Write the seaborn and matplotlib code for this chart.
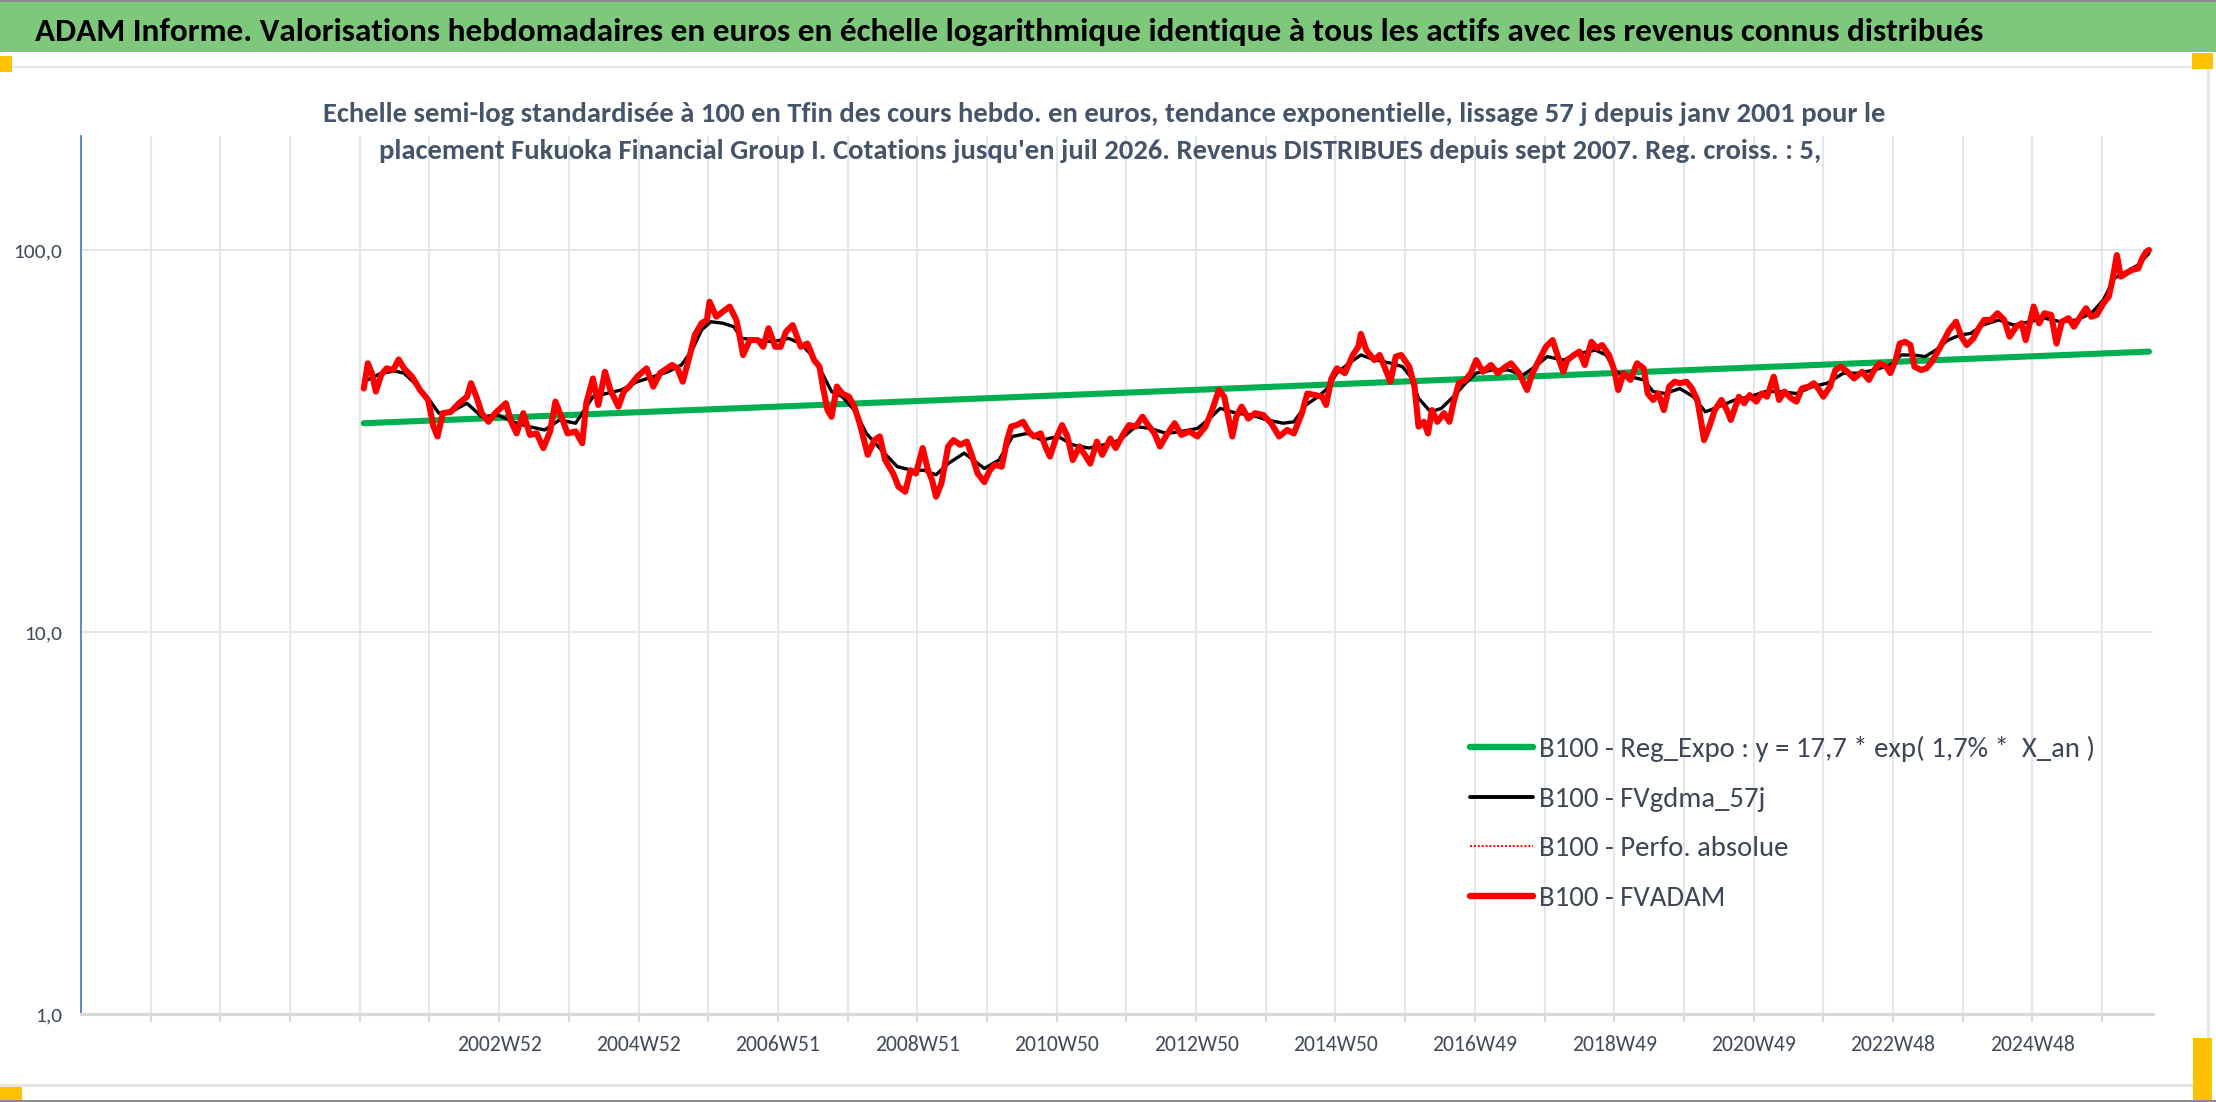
import numpy as np
import pandas as pd
import seaborn as sns
import matplotlib
matplotlib.use("Agg")
import matplotlib.pyplot as plt
from matplotlib import font_manager as fm
from matplotlib.lines import Line2D
from matplotlib.patches import Rectangle
from matplotlib.ticker import NullLocator, FixedLocator, FixedFormatter

# ---------------- DATA ----------------
header_text = ("ADAM Informe. Valorisations hebdomadaires en euros en échelle logarithmique "
               "identique à tous les actifs avec les revenus connus distribués")
subtitle_1 = ("Echelle semi-log standardisée à 100 en Tfin des cours hebdo. en euros, tendance "
              "exponentielle, lissage 57 j depuis janv 2001 pour le")
subtitle_2 = ("placement Fukuoka Financial Group I. Cotations jusqu'en juil 2026. Revenus "
              "DISTRIBUES depuis sept 2007. Reg. croiss. : 5,")

tick_labels = ["2002W52", "2004W52", "2006W51", "2008W51", "2010W50", "2012W50",
               "2014W50", "2016W49", "2018W49", "2020W49", "2022W48", "2024W48"]
y_ticks = [1, 10, 100]
y_tick_labels = ["1,0", "10,0", "100,0"]

series_names = ["B100 - Reg_Expo : y = 17,7 * exp( 1,7% *  X_an )",
                "B100 - FVgdma_57j",
                "B100 - Perfo. absolue",
                "B100 - FVADAM"]

# week index on the category axis (0 = first category, 52 weeks per year)
trend_week = [211, 1543]
trend_value = [35.2, 54.2]

red_week = [211, 214, 217, 220, 224, 228, 233, 237, 241, 247, 253, 259, 263, 266, 270, 276, 282, 288,
            291, 295, 299, 304, 309, 317, 321, 325, 330, 335, 340, 345, 350, 354, 359, 363, 369, 374,
            377, 382, 386, 391, 395, 401, 405, 409, 415, 422, 427, 432, 441, 445, 449, 454, 458, 463,
            467, 469, 474, 479, 484, 489, 492, 494, 499, 505, 509, 513, 518, 522, 526, 531, 537, 542,
            547, 551, 554, 557, 560, 564, 568, 573, 577, 581, 587, 592, 596, 600, 606, 610, 615, 619,
            623, 628, 632, 635, 638, 642, 647, 651, 656, 661, 665, 669, 674, 678, 682, 687, 691, 694,
            698, 703, 707, 711, 716, 720, 723, 727, 732, 736, 740, 745, 749, 753, 758, 762, 768, 772,
            778, 782, 787, 792, 797, 801, 805, 810, 816, 821, 827, 833, 839, 844, 849, 853, 859, 862,
            866, 871, 876, 882, 888, 894, 900, 905, 911, 915, 921, 926, 929, 933, 937, 943, 949, 953,
            955, 959, 965, 969, 973, 977, 981, 985, 991, 995, 998, 1002, 1005, 1008, 1012, 1017, 1021,
            1024, 1028, 1033, 1037, 1041, 1046, 1052, 1057, 1063, 1067, 1073, 1079, 1083, 1088, 1093,
            1098, 1102, 1106, 1109, 1114, 1118, 1122, 1127, 1131, 1135, 1140, 1144, 1147, 1151, 1156,
            1161, 1166, 1169, 1173, 1177, 1181, 1185, 1189, 1193, 1198, 1202, 1206, 1209, 1211, 1215,
            1219, 1224, 1228, 1231, 1237, 1241, 1245, 1250, 1254, 1258, 1263, 1267, 1271, 1276, 1280,
            1284, 1289, 1293, 1297, 1300, 1305, 1309, 1313, 1318, 1323, 1329, 1334, 1338, 1342, 1347,
            1350, 1354, 1357, 1361, 1365, 1368, 1373, 1377, 1381, 1386, 1390, 1394, 1399, 1403, 1407,
            1412, 1416, 1420, 1425, 1430, 1435, 1439, 1444, 1448, 1451, 1457, 1461, 1465, 1470, 1474,
            1478, 1483, 1487, 1491, 1496, 1500, 1504, 1509, 1513, 1516, 1519, 1522, 1526, 1530, 1535,
            1538, 1541, 1543]
red_value = [43.4, 50.5, 47.6, 42.6, 47.1, 49.0, 48.5, 51.7, 49.0, 46.6, 43.0, 40.5, 34.5, 32.5, 37.4,
             37.7, 39.7, 41.3, 44.8, 41.3, 37.4, 35.5, 37.4, 39.7, 35.5, 33.1, 37.4, 32.8, 33.1, 30.3,
             33.5, 40.1, 36.2, 33.1, 33.5, 31.2, 39.7, 46.1, 39.3, 48.0, 43.0, 38.9, 42.6, 43.9, 46.6,
             49.0, 43.9, 47.6, 50.0, 49.0, 45.2, 52.6, 59.9, 64.3, 65.6, 73.2, 66.9, 69.0, 71.1, 65.6,
             58.1, 53.1, 58.1, 58.1, 55.8, 62.4, 55.8, 55.8, 61.1, 63.6, 55.8, 56.9, 51.5, 49.5, 43.0,
             38.1, 36.6, 43.9, 42.1, 41.3, 38.9, 35.2, 29.1, 31.8, 32.5, 28.2, 26.0, 24.0, 23.3, 26.5,
             26.0, 30.3, 26.5, 25.0, 22.6, 24.5, 30.6, 31.8, 30.9, 31.5, 28.8, 26.0, 24.7, 26.5, 27.4,
             27.1, 31.8, 34.5, 34.8, 35.5, 33.5, 32.5, 33.1, 30.3, 28.8, 31.8, 34.8, 32.5, 28.2, 30.6,
             29.1, 27.6, 31.5, 29.1, 32.1, 30.3, 33.1, 34.8, 34.5, 36.6, 34.5, 33.1, 30.6, 32.8, 35.2,
             32.8, 33.5, 32.5, 34.5, 38.1, 43.0, 41.3, 32.5, 36.6, 38.9, 36.2, 37.4, 37.0, 35.2, 32.5,
             33.8, 33.1, 37.4, 42.1, 41.7, 41.3, 39.3, 46.1, 49.0, 47.6, 53.1, 55.8, 60.3, 54.7, 51.5,
             53.1, 49.0, 45.2, 52.6, 53.1, 49.5, 43.9, 34.5, 35.5, 33.1, 38.1, 35.5, 37.4, 35.5, 39.7,
             44.8, 45.7, 47.6, 51.5, 48.0, 50.0, 47.6, 49.5, 50.5, 47.6, 43.0, 47.6, 51.5, 55.8, 58.1,
             52.6, 48.0, 51.5, 53.1, 54.2, 50.0, 57.5, 55.3, 56.4, 53.1, 48.5, 43.0, 47.6, 45.7, 50.5,
             49.0, 42.1, 40.5, 42.1, 38.1, 43.9, 45.2, 44.8, 45.2, 43.4, 40.5, 35.2, 31.8, 34.5, 38.1,
             40.5, 38.1, 35.9, 41.3, 39.7, 41.7, 40.1, 42.1, 41.3, 46.6, 40.5, 42.6, 40.9, 40.1, 43.4,
             43.9, 44.8, 43.0, 41.3, 43.9, 48.5, 49.5, 48.0, 46.1, 48.0, 45.7, 48.5, 50.5, 49.5, 47.6,
             51.5, 56.9, 57.5, 56.4, 49.5, 48.5, 49.0, 51.0, 54.7, 58.1, 61.7, 64.9, 59.3, 56.4, 58.7,
             62.4, 65.6, 65.6, 68.3, 65.6, 59.3, 63.0, 64.3, 58.1, 71.1, 64.3, 68.3, 67.6, 56.9, 64.9,
             66.3, 63.0, 66.3, 70.4, 66.9, 67.6, 72.5, 75.5, 84.3, 97.0, 85.2, 86.9, 88.6, 89.5, 95.1,
             99.0, 100.0]

black_week = [211, 224, 234, 241, 249, 259, 267, 276, 288, 299, 311, 322, 334, 346, 357, 369, 374, 382,
              392, 403, 415, 427, 438, 448, 456, 463, 470, 479, 487, 493, 505, 516, 528, 537, 545, 553,
              560, 568, 577, 586, 597, 609, 620, 629, 638, 647, 659, 674, 685, 695, 706, 717, 729, 740,
              752, 763, 775, 787, 798, 810, 821, 833, 842, 850, 862, 873, 885, 897, 905, 914, 923, 930,
              937, 946, 955, 966, 978, 986, 992, 998, 1007, 1015, 1024, 1033, 1041, 1053, 1065, 1076,
              1085, 1094, 1106, 1118, 1130, 1138, 1145, 1156, 1166, 1173, 1182, 1193, 1203, 1212, 1222,
              1234, 1245, 1257, 1268, 1280, 1292, 1303, 1315, 1326, 1338, 1350, 1358, 1367, 1376, 1384,
              1393, 1402, 1410, 1419, 1431, 1442, 1454, 1465, 1477, 1489, 1500, 1509, 1517, 1526, 1535,
              1543]
black_value = [45.2, 47.6, 48.2, 47.6, 44.8, 40.9, 37.4, 37.7, 39.7, 36.6, 37.0, 35.5, 34.5, 33.8, 35.9,
               35.2, 37.4, 41.3, 42.1, 43.0, 45.2, 46.6, 48.0, 50.0, 54.7, 61.7, 64.9, 64.3, 63.0, 58.7,
               58.1, 57.5, 58.7, 56.9, 53.1, 47.6, 42.6, 41.3, 38.1, 33.1, 30.0, 27.1, 26.5, 26.5, 25.8,
               27.6, 29.4, 26.8, 28.2, 32.5, 33.1, 31.8, 32.5, 30.9, 30.3, 30.9, 31.8, 34.5, 34.1, 33.1,
               33.5, 34.1, 36.2, 38.5, 37.4, 37.0, 35.9, 35.2, 35.5, 39.3, 41.3, 43.4, 47.6, 50.5, 53.1,
               51.5, 50.5, 49.5, 46.6, 40.9, 37.7, 38.5, 41.3, 44.8, 47.6, 48.5, 48.5, 47.1, 49.5, 52.6,
               51.5, 53.6, 54.7, 53.1, 48.0, 46.6, 45.7, 42.6, 42.1, 43.4, 41.3, 37.7, 38.9, 40.5, 41.3,
               42.6, 42.6, 42.1, 43.9, 44.8, 47.6, 47.6, 48.5, 50.0, 53.1, 53.1, 52.6, 54.7, 58.1, 59.9,
               60.5, 63.6, 65.6, 63.6, 64.9, 66.3, 64.9, 65.6, 68.3, 74.0, 84.3, 87.8, 91.4, 98.1]

# ---------------- STYLE ----------------
sns.set_theme(style="white")


def pick(cands):
    names = {f.name for f in fm.fontManager.ttflist}
    for c in cands:
        if c in names:
            return c
    return "DejaVu Sans"


FONT = pick(["Carlito", "Liberation Sans Narrow", "Open Sans", "Lato", "Liberation Sans"])
plt.rcParams["font.family"] = [FONT, "DejaVu Sans"]

W, H = 2216, 1102
fig = plt.figure(figsize=(W / 100, H / 100), dpi=100)
fig.patch.set_facecolor("white")
renderer = fig.canvas.get_renderer()


def fx(px):
    return px / W


def fy(py):
    return 1 - py / H


def text_width(s, size, weight="normal"):
    t = fig.text(0, 0, s, fontsize=size, fontweight=weight)
    w = t.get_window_extent(renderer=renderer).width
    t.remove()
    return w


def fit_size(s, target_px, weight="normal", base=20.0):
    return base * target_px / text_width(s, base, weight)


def frect(x0, y0, x1, y1, color, z=0):
    fig.patches.append(Rectangle((fx(x0), fy(y1)), fx(x1) - fx(x0), fy(y0) - fy(y1),
                                 transform=fig.transFigure, facecolor=color,
                                 edgecolor="none", zorder=z))


# frame decorations
frect(0, 0, W, 52, "#7DC87B")
frect(0, 0, W, 2, "#8A8A8A")
frect(0, 66, 2209, 68, "#E2E4E8")
frect(2207, 67, 2210, 1086, "#E6E6E6")
frect(0, 1084, 2209, 1087, "#E2E4E8")
frect(0, 1100, W, H, "#8A8A8A")
frect(0, 56, 12, 72, "#FFC000", 1)
frect(2192, 53, 2213, 69, "#FFC000", 1)
frect(0, 1087, 22, 1100, "#FFC000", 1)
frect(2193, 1038, 2212, 1100, "#FFC000", 1)

# texts
hs = fit_size(header_text, 1952, "bold")
fig.text(fx(35), fy(41), header_text, fontsize=hs, fontweight="bold", color="black",
         ha="left", va="baseline")
ss = fit_size(subtitle_1, 1565, "bold")
fig.text(fx(1104), fy(122), subtitle_1, fontsize=ss, fontweight="bold", color="#44546A",
         ha="center", va="baseline")
fig.text(fx(1100), fy(159), subtitle_2, fontsize=ss, fontweight="bold", color="#44546A",
         ha="center", va="baseline")

# axes
ax = fig.add_axes([fx(81), fy(1014), fx(2153) - fx(81), fy(136) - fy(1014)])
ax.set_facecolor("white")

df_trend = pd.DataFrame({"week": trend_week, "value": trend_value})
df_black = pd.DataFrame({"week": black_week, "value": black_value})
df_red = pd.DataFrame({"week": red_week, "value": red_value})

sns.lineplot(data=df_trend, x="week", y="value", ax=ax, color="#00B050", linewidth=4.4,
             legend=False, zorder=3, solid_capstyle="round")
sns.lineplot(data=df_black, x="week", y="value", ax=ax, color="black", linewidth=2.4,
             legend=False, zorder=4)
sns.lineplot(data=df_red, x="week", y="value", ax=ax, color="#FF0000", linewidth=1.2,
             linestyle=":", legend=False, zorder=5)
sns.lineplot(data=df_red, x="week", y="value", ax=ax, color="#FF0000", linewidth=4.4,
             legend=False, zorder=6, solid_joinstyle="round")

ax.set_yscale("log")
ax.set_ylim(1, 10 ** (2 + 114 / 382))
ax.set_xlim(0, 1546)
ax.set_xlabel("")
ax.set_ylabel("")

# x: gridline every 52 weeks, label every 104 weeks
grid_pos = [52 * k for k in range(1, 30)]
lab = []
for k in range(1, 30):
    if k >= 6 and k % 2 == 0 and (k - 6) // 2 < len(tick_labels):
        lab.append(tick_labels[(k - 6) // 2])
    else:
        lab.append("")
ax.xaxis.set_major_locator(FixedLocator(grid_pos))
ax.xaxis.set_major_formatter(FixedFormatter(lab))
ax.yaxis.set_major_locator(FixedLocator(y_ticks))
ax.yaxis.set_major_formatter(FixedFormatter(y_tick_labels))
ax.yaxis.set_minor_locator(NullLocator())
ax.xaxis.set_minor_locator(NullLocator())

xs = fit_size("2002W52", 85)
ys = fit_size("100,0", 49)
ax.tick_params(axis="x", length=5.8, width=1.5, color="#D9D9D9", pad=9, labelsize=xs,
               labelcolor="#404A5A", bottom=True)
ax.tick_params(axis="y", length=0, pad=13.7, labelsize=ys, labelcolor="#404A5A", left=True)
ax.grid(True, which="major", axis="both", color="#E3E6EB", linewidth=1.5)
ax.set_axisbelow(True)
for s in ["top", "right"]:
    ax.spines[s].set_visible(False)
ax.spines["left"].set_color("#4472C4")
ax.spines["left"].set_linewidth(1.2)
ax.spines["bottom"].set_color("#D9D9D9")
ax.spines["bottom"].set_linewidth(2.2)

# legend
ls_ = fit_size(series_names[0], 555)
fs_px = ls_ * 100 / 72
handles = [Line2D([], [], color="#00B050", linewidth=4.6, solid_capstyle="round"),
           Line2D([], [], color="black", linewidth=2.8),
           Line2D([], [], color="#FF0000", linewidth=1.4, linestyle=(0, (1, 1))),
           Line2D([], [], color="#FF0000", linewidth=4.6, solid_capstyle="round")]
leg = fig.legend(handles, series_names, loc="upper left",
                 bbox_to_anchor=(fx(1470), fy(736)), frameon=False, fontsize=ls_,
                 handlelength=63 / fs_px, handletextpad=6 / fs_px,
                 labelspacing=(58.0 - 1.17 * fs_px) / fs_px, borderpad=0, borderaxespad=0,
                 labelcolor="#3D4656")

fig.savefig("out.png", dpi=100, facecolor="white")
